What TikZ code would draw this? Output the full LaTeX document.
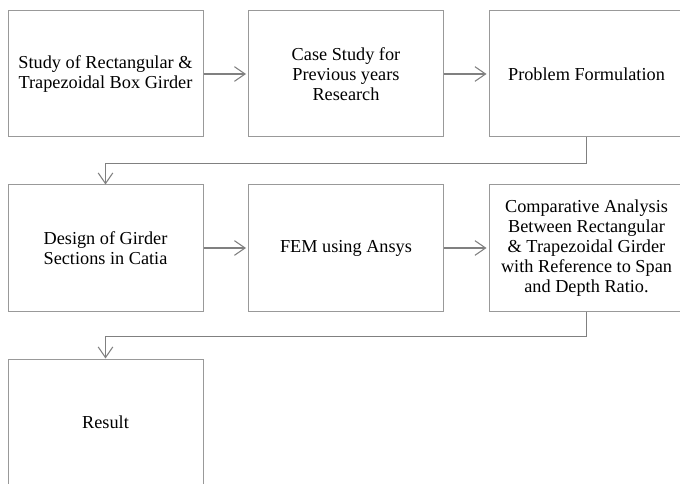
\documentclass[tikz,border=0pt]{standalone}
\usepackage{fontspec}
\setmainfont{Liberation Serif}
\usetikzlibrary{arrows.meta}

\tikzset{
  stage/.style={draw=gray!80, line width=0.75pt, minimum width=146.25pt, minimum height=94.5pt,
    align=center, inner sep=0pt, font=\fontsize{13.7}{15}\selectfont},
  conn/.style={draw=gray, line width=0.8pt, -{Straight Barb[length=8pt,width=11pt]}},
}

\begin{document}
\begin{tikzpicture}[x=0.75pt, y=-0.75pt]
  \useasboundingbox (0,0) rectangle (680,484);

  % Row 1 (top)
  \node[stage] (study) at (105.5, 74) {Study of Rectangular \&\\Trapezoidal Box Girder};
  \node[stage] (case) at (346, 74) {Case Study for\\Previous years\\Research};
  \node[stage] (problem) at (586.5, 74) {Problem Formulation};
  % Row 2
  \node[stage] (design) at (105.5, 248) {Design of Girder\\Sections in Catia};
  \node[stage] (fem) at (346, 248) {FEM using Ansys};
  \node[stage] (compare) at (586.5, 248) {Comparative Analysis\\Between Rectangular\\\& Trapezoidal Girder\\with Reference to Span\\and Depth Ratio.};
  % Row 3 (bottom)
  \node[stage] (result) at (105.5, 422) {Result};

  % Arrows along each row
  \draw[conn, shorten >=1.5pt] (study) -- (case);
  \draw[conn, shorten >=1.5pt] (case) -- (problem);
  \draw[conn, shorten >=1.5pt] (design) -- (fem);
  \draw[conn, shorten >=1.5pt] (fem) -- (compare);
  % Return lines down to the next row
  \draw[conn] (problem.south) -- ++(0,26) -| (design.north);
  \draw[conn] (compare.south) -- ++(0,25) -| (result.north);
\end{tikzpicture}
\end{document}
